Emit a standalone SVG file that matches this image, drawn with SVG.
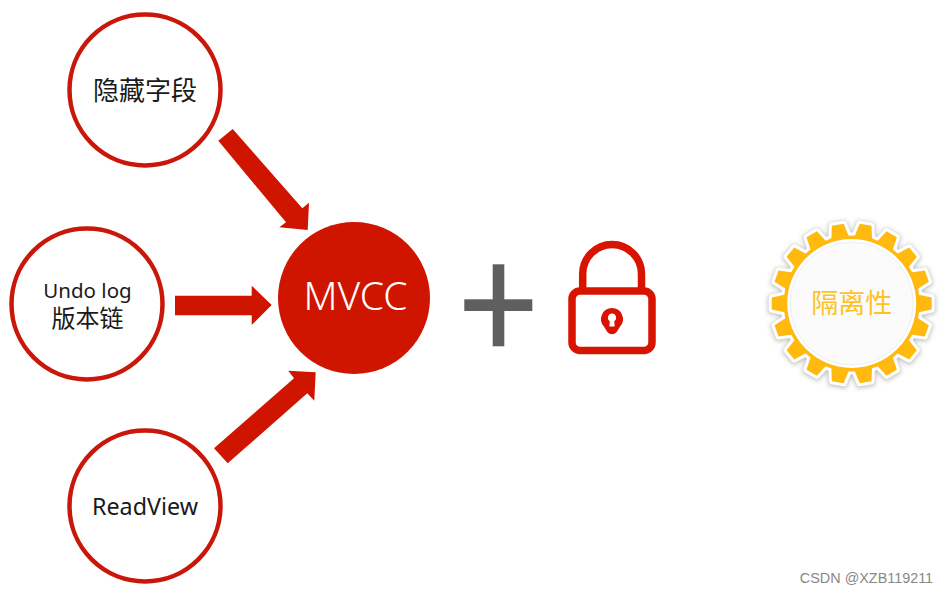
<svg xmlns="http://www.w3.org/2000/svg" xmlns:xlink="http://www.w3.org/1999/xlink" width="949" height="593" viewBox="0 0 949 593">
<style>
text{font-family:"Noto Sans","Noto Sans CJK SC",sans-serif;text-anchor:middle;fill:#1a1a1a}
.ring{fill:#fff;stroke:#c9170a;stroke-width:4.5}
.arrow{fill:#cf1500}
</style>
<defs>
<filter id="soft" x="-20%" y="-20%" width="140%" height="140%"><feGaussianBlur stdDeviation="2.5"/></filter>
<polygon id="tooth" points="-9,-66 -6,-80 6,-80 9,-66"/>
<g id="gear">
<circle r="68"/>
<use xlink:href="#tooth" transform="rotate(10)"/><use xlink:href="#tooth" transform="rotate(30)"/><use xlink:href="#tooth" transform="rotate(50)"/>
<use xlink:href="#tooth" transform="rotate(70)"/><use xlink:href="#tooth" transform="rotate(90)"/><use xlink:href="#tooth" transform="rotate(110)"/>
<use xlink:href="#tooth" transform="rotate(130)"/><use xlink:href="#tooth" transform="rotate(150)"/><use xlink:href="#tooth" transform="rotate(170)"/>
<use xlink:href="#tooth" transform="rotate(190)"/><use xlink:href="#tooth" transform="rotate(210)"/><use xlink:href="#tooth" transform="rotate(230)"/>
<use xlink:href="#tooth" transform="rotate(250)"/><use xlink:href="#tooth" transform="rotate(270)"/><use xlink:href="#tooth" transform="rotate(290)"/>
<use xlink:href="#tooth" transform="rotate(310)"/><use xlink:href="#tooth" transform="rotate(330)"/><use xlink:href="#tooth" transform="rotate(350)"/>
</g>
</defs>
<rect width="949" height="593" fill="#fff"/>
<g id="connectors">
<polygon class="arrow" points="218.3,140.7 232.7,129 302.3,208.3 309,202.7 307.7,230 279.3,227.3 286,222.3"/>
<polygon class="arrow" points="175,295.700 251.700,295.700 251.700,285.700 271.700,305 251.700,325 251.700,315.300 175,315.300"/>
<polygon class="arrow" points="214,448.300 294,378.300 288.300,370.700 315.700,372.300 314.300,400.700 307.300,393.300 227.700,463.300"/>
</g>
<g id="node-hidden"><circle class="ring" cx="145" cy="90" r="75.500"/><text x="145" y="100" font-size="26">隐藏字段</text></g>
<g id="node-undo"><circle class="ring" cx="87" cy="304" r="75.500"/><text x="87.500" y="298" font-size="20.500">Undo log</text><text x="87.500" y="327" font-size="24">版本链</text></g>
<g id="node-readview"><circle class="ring" cx="145" cy="506" r="75.500"/><text x="145" y="515" font-size="23.300">ReadView</text></g>
<g id="node-mvcc"><circle cx="354" cy="298" r="76" fill="#cf1500"/><text x="355.500" y="310" font-size="39" font-weight="300" style="fill:#fff">MVCC</text></g>
<g id="node-plus"><rect x="464.300" y="299.300" width="68" height="11.700" fill="#5f5f5f"/><rect x="492.700" y="264.300" width="11.600" height="82" fill="#5f5f5f"/></g>
<g id="node-lock">
<path d="M582.700,291 V274 A29.400,29.400 0 0 1 641.500,274 V291" fill="none" stroke="#d81400" stroke-width="7.500"/>
<rect x="572" y="291" width="80" height="59.500" rx="8" fill="#fff" stroke="#d81400" stroke-width="7.500"/>
<path d="M612,308 a11,11 0 0 1 8,18.500 l-3,5 a6,6 0 0 1 -10,0 l-3,-5 a11,11 0 0 1 8,-18.500z" fill="#d81400"/>
<path d="M612,313.500 a4.200,4.200 0 0 1 2.200,7.700 l0.500,5.300 h-5.400 l0.500,-5.300 a4.200,4.200 0 0 1 2.200,-7.700z" fill="#fff"/>
</g>
<g id="node-isolation">
<use xlink:href="#gear" transform="translate(851.700 304.500)" fill="#777" stroke="#777" stroke-width="7" opacity="0.5" filter="url(#soft)"/>
<use xlink:href="#gear" transform="translate(851.700 303.500)" fill="#fff" stroke="#fff" stroke-width="6" stroke-linejoin="round"/>
<use xlink:href="#gear" transform="translate(851.700 303.500)" fill="#ffb90f"/>
<circle cx="851.700" cy="303.500" r="64.500" fill="#fff"/>
<circle cx="851.700" cy="303.500" r="61.500" fill="#fbfbfb" stroke="#efefef" stroke-width="1"/>
<text x="851.700" y="313" font-size="27" style="fill:#ffc222">隔离性</text>
</g>
<text x="866.500" y="583" font-size="14.400" style="fill:#888;font-family:'Liberation Sans',sans-serif">CSDN @XZB119211</text>
</svg>
